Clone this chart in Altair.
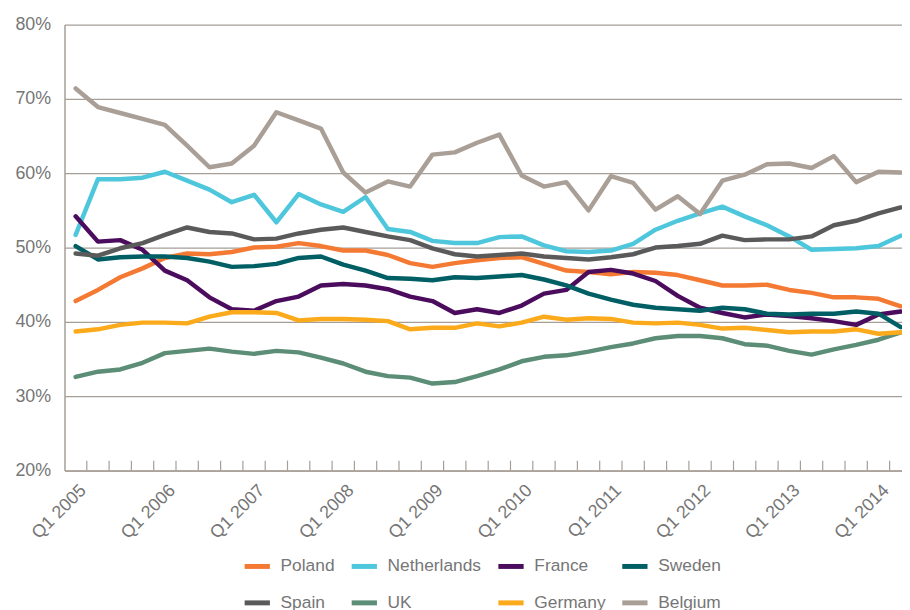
import altair as alt
import pandas as pd

years = list(range(2005, 2015))
quarters = [f"Q{q} {y}" for y in years for q in (1, 2, 3, 4)][:38]
q1_labels = [f"Q1 {y}" for y in years]

countries = ["Poland", "Netherlands", "France", "Sweden", "Spain", "UK", "Germany", "Belgium"]
colors = ["#F47A33", "#4EC7DD", "#4B0C5E", "#005F64", "#5A5A5A", "#5C8D76", "#FBAA1B", "#A99F97"]

poland = [42.8, 44.3, 46.0, 47.2, 48.6, 49.2, 49.1, 49.4, 50.0, 50.1, 50.6, 50.2,
          49.6, 49.6, 49.0, 47.9, 47.4, 47.9, 48.3, 48.6, 48.7, 47.8, 46.9, 46.7,
          46.4, 46.7, 46.6, 46.3, 45.6, 44.9, 44.9, 45.0, 44.3, 43.9, 43.3, 43.3, 43.1, 42.1]
netherlands = [51.7, 59.2, 59.2, 59.4, 60.2, 59.0, 57.8, 56.1, 57.1, 53.4, 57.2, 55.8,
               54.8, 56.8, 52.5, 52.1, 50.9, 50.6, 50.6, 51.4, 51.5, 50.3, 49.5, 49.4,
               49.6, 50.5, 52.4, 53.6, 54.6, 55.5, 54.2, 53.0, 51.5, 49.7, 49.8, 49.9, 50.2, 51.6]
france = [54.2, 50.8, 51.0, 49.7, 46.9, 45.6, 43.3, 41.7, 41.5, 42.8, 43.4, 44.9,
          45.1, 44.9, 44.4, 43.4, 42.8, 41.2, 41.7, 41.2, 42.2, 43.8, 44.3, 46.7,
          47.0, 46.5, 45.5, 43.5, 41.9, 41.2, 40.6, 41.0, 40.8, 40.5, 40.1, 39.6, 41.0, 41.4]
sweden = [50.2, 48.4, 48.7, 48.8, 48.8, 48.6, 48.1, 47.4, 47.5, 47.8, 48.6, 48.8,
          47.7, 46.9, 45.9, 45.8, 45.6, 46.0, 45.9, 46.1, 46.3, 45.7, 44.9, 43.8,
          43.0, 42.3, 41.9, 41.7, 41.5, 41.9, 41.7, 41.1, 41.0, 41.1, 41.1, 41.4, 41.1, 39.3]
spain = [49.2, 48.9, 49.9, 50.6, 51.7, 52.7, 52.1, 51.9, 51.1, 51.2, 51.9, 52.4,
         52.7, 52.1, 51.5, 51.0, 49.9, 49.1, 48.8, 49.0, 49.2, 48.8, 48.6, 48.4,
         48.7, 49.1, 50.0, 50.2, 50.5, 51.6, 51.0, 51.1, 51.1, 51.5, 53.0, 53.6, 54.6, 55.4]
uk = [32.6, 33.3, 33.6, 34.5, 35.8, 36.1, 36.4, 36.0, 35.7, 36.1, 35.9, 35.2,
      34.4, 33.3, 32.7, 32.5, 31.7, 31.9, 32.7, 33.6, 34.7, 35.3, 35.5, 36.0,
      36.6, 37.1, 37.8, 38.1, 38.1, 37.8, 37.0, 36.8, 36.1, 35.6, 36.3, 36.9, 37.6, 38.6]
germany = [38.7, 39.0, 39.6, 39.9, 39.9, 39.8, 40.7, 41.3, 41.3, 41.2, 40.2, 40.4,
           40.4, 40.3, 40.1, 39.0, 39.2, 39.2, 39.8, 39.4, 39.9, 40.7, 40.3, 40.5,
           40.4, 39.9, 39.8, 39.9, 39.6, 39.1, 39.2, 38.9, 38.6, 38.7, 38.7, 39.0, 38.4, 38.6]
belgium = [71.4, 68.9, 68.1, 67.3, 66.5, 63.7, 60.8, 61.3, 63.7, 68.2, 67.1, 66.0,
           60.1, 57.4, 58.9, 58.2, 62.5, 62.8, 64.1, 65.2, 59.7, 58.2, 58.8, 55.0,
           59.6, 58.7, 55.1, 56.9, 54.5, 59.0, 59.8, 61.2, 61.3, 60.7, 62.3, 58.8, 60.2, 60.1]

series = [poland, netherlands, france, sweden, spain, uk, germany, belgium]
rows = []
for name, vals in zip(countries, series):
    for q, v in zip(quarters, vals):
        rows.append({"quarter": q, "country": name, "value": v})
df = pd.DataFrame(rows)
ticks_df = pd.DataFrame({"quarter": quarters[1:]})

AXIS_GRAY = "#A69E97"
TEXT_GRAY = "#767676"
W, H = 845, 450

xscale = alt.Scale(type="band", domain=quarters, range=[0, 855], paddingInner=0, paddingOuter=0)
xaxis = alt.Axis(values=q1_labels, labelAngle=-45, labelAlign="right", labelBaseline="middle",
                 labelFontSize=18, labelColor=TEXT_GRAY, labelPadding=17, labelOffset=8,
                 ticks=False, grid=False, domainColor=AXIS_GRAY, domainWidth=1.5,
                 labelOverlap=False, labelBound=False, title=None)

tick_rules = alt.Chart(ticks_df).mark_rule(color=AXIS_GRAY, strokeWidth=1.2).encode(
    x=alt.X("quarter:O", scale=xscale, axis=xaxis, bandPosition=0),
    y=alt.value(H - 10),
    y2=alt.value(H),
)

lines = alt.Chart(df).mark_line(strokeWidth=4.5, strokeJoin="round", strokeCap="round").encode(
    x=alt.X("quarter:O", scale=xscale, axis=xaxis, bandPosition=0.5),
    y=alt.Y("value:Q", scale=alt.Scale(domain=[20, 80], nice=False, zero=False),
            axis=alt.Axis(values=[20, 30, 40, 50, 60, 70, 80], labelExpr="datum.value + '%'",
                          grid=True, gridColor=AXIS_GRAY, gridWidth=1.3,
                          domainColor=AXIS_GRAY, domainWidth=1.5, ticks=False,
                          labelFontSize=18, labelColor=TEXT_GRAY, labelPadding=14, title=None)),
    color=alt.Color("country:N", sort=countries,
                    scale=alt.Scale(domain=countries, range=colors),
                    legend=alt.Legend(orient="none", legendX=179, legendY=531, direction="horizontal",
                                      columns=4, gridAlign="each", symbolType="stroke", symbolSize=650,
                                      symbolStrokeWidth=5, labelFontSize=17.5, labelColor=TEXT_GRAY,
                                      labelOffset=8, columnPadding=6, rowPadding=11, padding=0,
                                      title=None)),
    order=alt.Order("country:N"),
)

chart = alt.layer(tick_rules, lines).properties(
    width=W, height=H,
    autosize=alt.AutoSizeParams(type="none"),
    padding={"left": 57, "top": 14, "right": 0, "bottom": 138},
).configure(font="Liberation Sans").configure_view(stroke=None)

chart.save("out.html", embed_options={"renderer": "svg", "actions": False})
